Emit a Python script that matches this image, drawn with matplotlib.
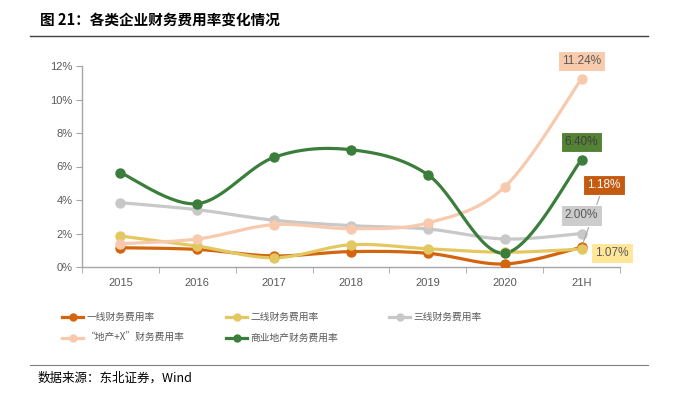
import numpy as np
import matplotlib
matplotlib.use("Agg")
import matplotlib.pyplot as plt
from matplotlib.lines import Line2D

plt.rcParams['font.family'] = ['Liberation Sans', 'Noto Sans CJK SC', 'DejaVu Sans']

categories = ["2015", "2016", "2017", "2018", "2019", "2020", "21H"]
tier1 = [1.15, 1.05, 0.66, 0.92, 0.82, 0.18, 1.18]
tier2 = [1.85, 1.25, 0.55, 1.33, 1.09, 0.88, 1.07]
tier3 = [3.84, 3.42, 2.79, 2.47, 2.27, 1.67, 2.00]
realx = [1.39, 1.67, 2.53, 2.29, 2.63, 4.78, 11.24]
commercial = [5.63, 3.78, 6.55, 7.00, 5.51, 0.82, 6.40]
names = ["一线财务费用率", "二线财务费用率", "三线财务费用率", "“地产+X”财务费用率", "商业地产财务费用率"]
colors = ["#D2650E", "#E3C862", "#C8C8C8", "#F8C9AC", "#3B7D3B"]
series = [tier1, tier2, tier3, realx, commercial]

W, H = 673, 393
fig = plt.figure(figsize=(W / 100, H / 100), dpi=100)

def smooth(x, y, n=30):
    x = np.asarray(x, float); y = np.asarray(y, float)
    P = np.column_stack([x, y])
    out = [P[0]]
    for i in range(len(P) - 1):
        p0 = P[i - 1] if i > 0 else P[i]
        p1 = P[i]; p2 = P[i + 1]
        p3 = P[i + 2] if i + 2 < len(P) else P[i + 1]
        c1 = p1 + (p2 - p0) / 6.0
        c2 = p2 - (p3 - p1) / 6.0
        t = np.linspace(0, 1, n)[1:, None]
        b = ((1 - t) ** 3) * p1 + 3 * ((1 - t) ** 2) * t * c1 + 3 * (1 - t) * t ** 2 * c2 + t ** 3 * p2
        out.extend(b)
    out = np.array(out)
    return out[:, 0], out[:, 1]

ax = fig.add_axes([82 / W, 1 - 267 / H, (620 - 82) / W, (267 - 66) / H])
x = np.arange(len(categories))
handles = []
for vals, c, nm in zip(series, colors, names):
    sx, sy = smooth(x, vals)
    ax.plot(sx, sy, color=c, lw=2.3, solid_capstyle='round', zorder=3)
    ax.plot(x, vals, 'o', color=c, ms=6.5, zorder=4)
    handles.append(Line2D([0], [0], color=c, lw=2.3, marker='o', ms=5))

ax.set_xlim(-0.5, 6.5)
ax.set_ylim(0, 12)
ax.set_yticks(np.arange(0, 13, 2))
ax.set_yticklabels([f"{v}%" for v in range(0, 13, 2)])
ax.set_xticks(x)
ax.set_xticklabels(categories)
ax.set_xticks(np.arange(-0.5, 7, 1), minor=True)
ax.tick_params(axis='x', which='major', length=0, pad=8, labelsize=8, labelcolor="#595959")
ax.tick_params(axis='x', which='minor', length=4, color="#A6A6A6", direction='out')
ax.tick_params(axis='y', length=4, color="#A6A6A6", labelsize=8, labelcolor="#595959", pad=3)
for s in ['top', 'right']:
    ax.spines[s].set_visible(False)
for s in ['left', 'bottom']:
    ax.spines[s].set_color("#A6A6A6")
    ax.spines[s].set_linewidth(1)

# data labels
def lab(xi, yi, txt, fc, tc, dx=0, dy=0, line=False):
    kw = dict(textcoords='offset points', xytext=(dx, dy), ha='center', va='center',
              fontsize=8.5, color=tc,
              bbox=dict(boxstyle='square,pad=0.35', fc=fc, ec='white', lw=0.8), zorder=6)
    if line:
        kw['arrowprops'] = dict(arrowstyle='-', color='#A6A6A6', lw=0.8, shrinkA=0, shrinkB=3)
    ax.annotate(txt, xy=(xi, yi), **kw)

lab(6, 11.24, "11.24%", "#F8CBAD", "#595959", 0, 13)
lab(6, 6.40, "6.40%", "#548235", "#3F3F3F", 0, 13)
lab(6, 1.18, "1.18%", "#C55A11", "white", 16, 45, line=True)
lab(6, 2.00, "2.00%", "#CCCCCC", "#595959", 0, 13)
lab(6, 1.07, "1.07%", "#FFE699", "#595959", 22, -3)

# legend entries
pos = [(62, 317), (226, 317), (389, 317), (62, 338), (226, 338)]
for h, nm, (px, py) in zip(handles, names, pos):
    fig.legend(handles=[h], labels=[nm], loc='center left',
               bbox_to_anchor=(px / W, 1 - py / H), frameon=False,
               handlelength=2.2, handletextpad=0.3, borderpad=0, borderaxespad=0,
               prop={'family': ['Noto Sans CJK SC'], 'size': 7}, labelcolor="#595959")

# title & source
fig.text(40 / W, 1 - 20 / H, "图 21：各类企业财务费用率变化情况", fontsize=10.5, fontweight='bold',
         family=['Noto Sans CJK SC'], va='center', ha='left', color='black')
fig.add_artist(Line2D([30 / W, 648 / W], [1 - 36 / H, 1 - 36 / H], color='#404040', lw=1))
fig.add_artist(Line2D([30 / W, 648 / W], [1 - 365 / H, 1 - 365 / H], color='#808080', lw=0.8))
fig.text(38 / W, 1 - 378 / H, "数据来源：东北证券，Wind", fontsize=9,
         family=['Noto Sans CJK SC'], va='center', ha='left', color='black')

fig.savefig("out.png", dpi=100)
